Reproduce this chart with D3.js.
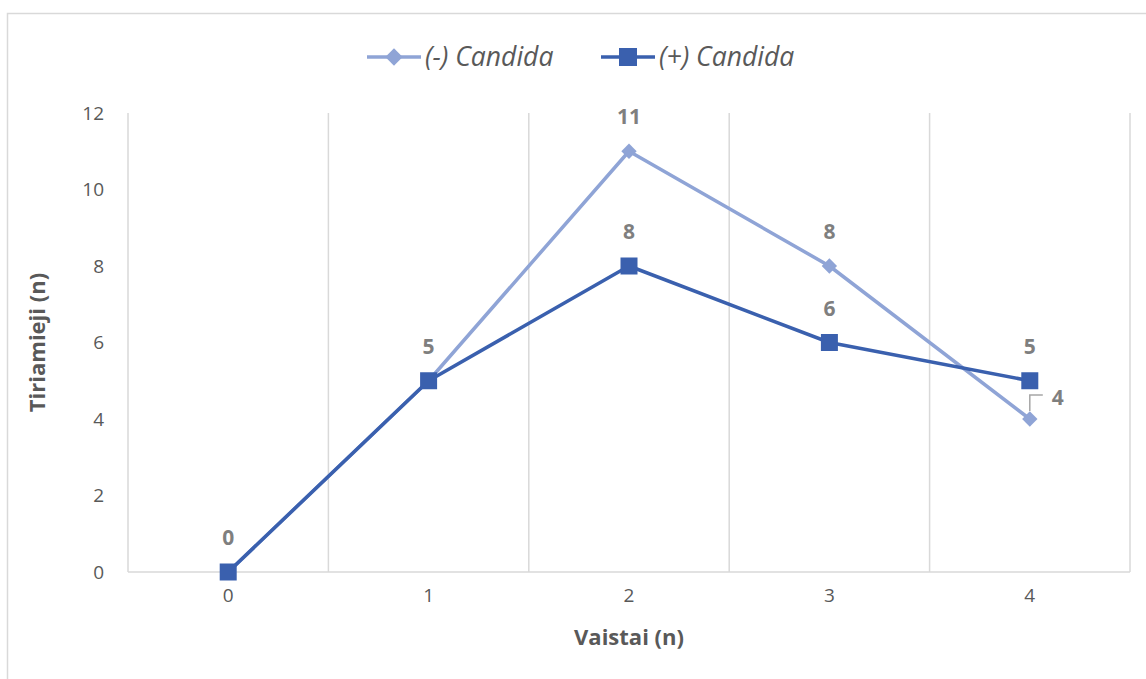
<!DOCTYPE html>
<html>
<head>
<meta charset="utf-8">
<script src="https://cdn.jsdelivr.net/npm/d3@7"></script>
<style>
  html, body { margin: 0; padding: 0; background: #fff; }
  svg { display: block; font-family: "Open Sans", "Noto Sans", sans-serif; }
</style>
</head>
<body>
<svg id="chart" width="1146" height="679"></svg>
<script>
// Drug count categories (x) and number of subjects per group (y)
const categories = ["0", "1", "2", "3", "4"];
const seriesNames = ["(-) Candida", "(+) Candida"];
const negCandida = [0, 5, 11, 8, 4];
const posCandida = [0, 5, 8, 6, 5];
const yTicks = [0, 2, 4, 6, 8, 10, 12];

const svg = d3.select("#chart");
const W = 1146, H = 679;
const plot = { left: 128, right: 1130, top: 113, bottom: 572 };

const lightBlue = "#8fa4d6";
const darkBlue = "#3a60ae";
const textGrey = "#595959";
const labelGrey = "#7f7f7f";
const gridGrey = "#d9d9d9";

// Outer chart frame
svg.append("rect")
  .attr("x", 7.5).attr("y", 13.5)
  .attr("width", W + 10).attr("height", H + 10)
  .attr("fill", "#fff").attr("stroke", "#d9d9d9").attr("stroke-width", 1.5);

const x = d3.scaleBand().domain(categories).range([plot.left, plot.right]).padding(0);
const y = d3.scaleLinear().domain([0, 12]).range([plot.bottom, plot.top]);
const cx = c => x(c) + x.bandwidth() / 2;

// Vertical gridlines at category boundaries
const bounds = categories.map(c => x(c)).concat([plot.right]);
svg.append("g").selectAll("line").data(bounds).join("line")
  .attr("x1", d => d).attr("x2", d => d)
  .attr("y1", y(12)).attr("y2", y(0))
  .attr("stroke", gridGrey).attr("stroke-width", 1.5);

// X axis line
svg.append("line")
  .attr("x1", plot.left).attr("x2", plot.right)
  .attr("y1", y(0)).attr("y2", y(0))
  .attr("stroke", gridGrey).attr("stroke-width", 1.5);

// Y axis tick labels
const yAxis = d3.axisLeft(y).tickValues(yTicks).tickSize(0).tickPadding(24);
const gy = svg.append("g").attr("transform", `translate(${plot.left},0)`).call(yAxis);
gy.select(".domain").remove();
gy.selectAll("text").attr("fill", textGrey).style("font-size", "19px")
  .style("font-family", "'Open Sans', sans-serif");

// X axis tick labels
const xAxis = d3.axisBottom(x).tickSize(0).tickPadding(17);
const gx = svg.append("g").attr("transform", `translate(0,${plot.bottom})`).call(xAxis);
gx.select(".domain").remove();
gx.selectAll("text").attr("fill", textGrey).style("font-size", "19px")
  .style("font-family", "'Open Sans', sans-serif");

// Axis titles
svg.append("text")
  .attr("x", (plot.left + plot.right) / 2).attr("y", 645)
  .attr("text-anchor", "middle").attr("fill", textGrey)
  .style("font-size", "22px").style("font-weight", "bold")
  .text("Vaistai (n)");
svg.append("text")
  .attr("transform", `translate(45,${(plot.top + plot.bottom) / 2}) rotate(-90)`)
  .attr("text-anchor", "middle").attr("fill", textGrey)
  .style("font-size", "22px").style("font-weight", "bold")
  .text("Tiriamieji (n)");

const line = d3.line().x((d, i) => cx(categories[i])).y(d => y(d));

// (-) Candida series: light line with diamonds
svg.append("path").datum(negCandida)
  .attr("d", line).attr("fill", "none")
  .attr("stroke", lightBlue).attr("stroke-width", 3.5).attr("stroke-linejoin", "round");
const diamond = d3.symbol().type(d3.symbolDiamond2).size(150);
svg.append("g").selectAll("path").data(negCandida).join("path")
  .attr("d", diamond)
  .attr("transform", (d, i) => `translate(${cx(categories[i])},${y(d)})`)
  .attr("fill", lightBlue);

// (+) Candida series: dark line with squares
svg.append("path").datum(posCandida)
  .attr("d", line).attr("fill", "none")
  .attr("stroke", darkBlue).attr("stroke-width", 3.5).attr("stroke-linejoin", "round");
svg.append("g").selectAll("rect").data(posCandida).join("rect")
  .attr("x", (d, i) => cx(categories[i]) - 8.5)
  .attr("y", d => y(d) - 8.5)
  .attr("width", 17).attr("height", 17)
  .attr("fill", darkBlue);

// Data labels
const labelStyle = sel => sel
  .attr("text-anchor", "middle").attr("fill", labelGrey)
  .style("font-size", "21px").style("font-weight", "bold");

// (+) Candida labels above every point
svg.append("g").selectAll("text").data(posCandida).join("text")
  .attr("x", (d, i) => cx(categories[i]))
  .attr("y", d => y(d) - 27)
  .call(labelStyle)
  .text(d => d);

// (-) Candida labels where they differ from the other series
const negLabels = negCandida.map((v, i) => ({ v, i })).filter(d => d.v !== posCandida[d.i]);
negLabels.forEach(d => {
  const px = cx(categories[d.i]), py = y(d.v);
  if (d.v < posCandida[d.i]) {
    // label pulled to the upper right with a leader line
    svg.append("path")
      .attr("d", `M${px},${py - 8} V${py - 24} H${px + 13}`)
      .attr("fill", "none").attr("stroke", "#a6a6a6").attr("stroke-width", 1.5);
    svg.append("text").attr("x", px + 28).attr("y", py - 14)
      .call(labelStyle).text(d.v);
  } else {
    svg.append("text").attr("x", px).attr("y", py - 27)
      .call(labelStyle).text(d.v);
  }
});

// Legend
const legend = svg.append("g");
const legendDiamond = d3.symbol().type(d3.symbolDiamond2).size(190);
const legendItems = [
  { name: seriesNames[0], color: lightBlue, shape: "diamond", x0: 367 },
  { name: seriesNames[1], color: darkBlue, shape: "square", x0: 601 }
];
legendItems.forEach(it => {
  legend.append("line")
    .attr("x1", it.x0).attr("x2", it.x0 + 54)
    .attr("y1", 57).attr("y2", 57)
    .attr("stroke", it.color).attr("stroke-width", 3.5);
  if (it.shape === "diamond") {
    legend.append("path").attr("d", legendDiamond)
      .attr("transform", `translate(${it.x0 + 27},57)`).attr("fill", it.color);
  } else {
    legend.append("rect").attr("x", it.x0 + 18).attr("y", 48)
      .attr("width", 18).attr("height", 18).attr("fill", it.color);
  }
  legend.append("text")
    .attr("x", it.x0 + 58).attr("y", 66)
    .attr("fill", textGrey)
    .style("font-size", "26.5px").style("font-style", "italic")
    .text(it.name);
});
</script>
</body>
</html>
